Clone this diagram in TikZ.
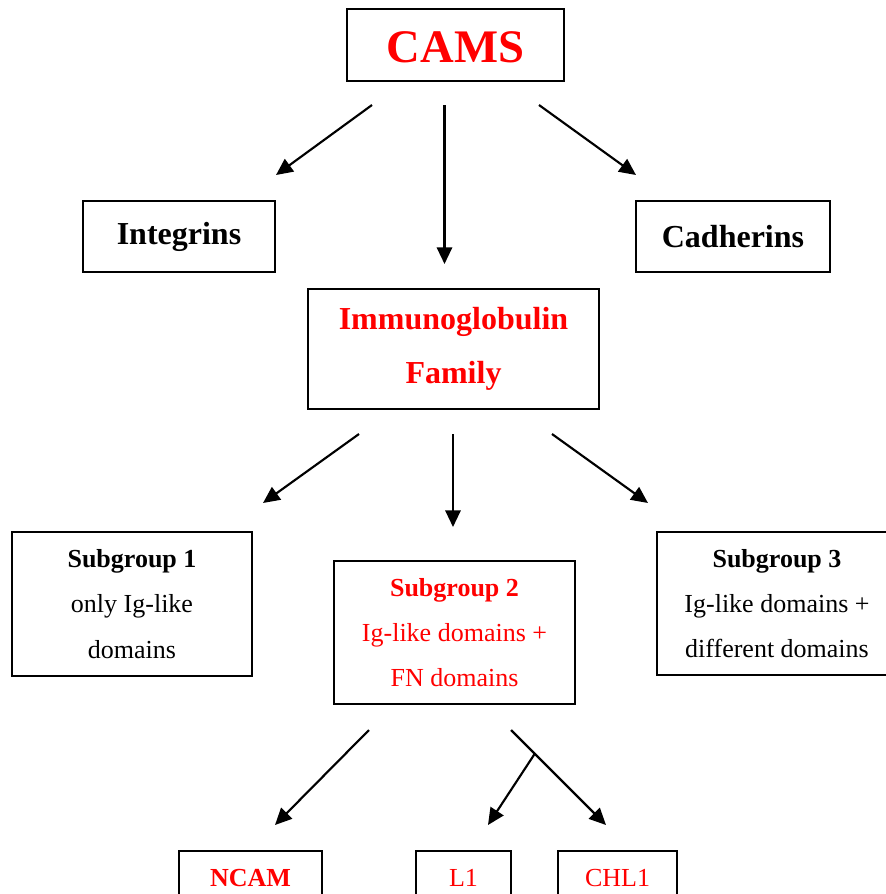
\documentclass[tikz,border=0pt]{standalone}
\usepackage{fontspec}
\setmainfont{Liberation Serif}
\usepackage{tikz}
\usetikzlibrary{arrows.meta,calc}
\tikzstyle{boxed}=[draw, line width=1.5pt, inner sep=0pt, align=center]
\tikzstyle{bigtext}=[font=\fontsize{24}{40}\selectfont\bfseries]
\tikzstyle{subtext}=[font=\fontsize{19.5}{34}\selectfont]
\tikzstyle{lowbox}=[draw, line width=1.5pt, anchor=north, inner xsep=0pt, inner ysep=13.4pt, text height=13pt, text depth=0pt, text=red, font=\fontsize{19.5}{23}\selectfont]
\tikzstyle{arrowed}=[line width=1.6pt, -{Triangle[length=12.5pt,width=11.5pt]}]
\newcommand{\linkArrow}[4]{
	\draw[arrowed] ($#1+#2$) -- ($#3+#4$);
}

\begin{document}
\begin{tikzpicture}[x=0.75pt, y=-0.75pt]
	\clip (0,0) rectangle (886,894);
	\node[boxed, minimum width=162.75pt, minimum height=54pt, text height=27pt, text=red, font=\fontsize{35}{40}\selectfont\bfseries] (cams) at (455.5,45) {CAMS};
	\node[boxed, bigtext, minimum width=144pt, minimum height=53.25pt] (integ) at (179,236.5) {Integrins};
	\node[boxed, bigtext, minimum width=145.5pt, minimum height=53.25pt] (cadh) at (733,236.5) {Cadherins};
	\node[boxed, bigtext, text=red, minimum width=218.25pt, minimum height=90pt] (immuno) at (453.5,349) {Immunoglobulin\\Family};
	\node[boxed, subtext, minimum width=180pt, minimum height=108pt] (sub1) at (132,604) {{\bfseries Subgroup 1}\\only Ig-like\\domains};
	\node[boxed, subtext, text=red, minimum width=180.75pt, minimum height=107.25pt] (sub2) at (454.5,632.5) {{\bfseries Subgroup 2}\\Ig-like domains +\\FN domains};
	\node[boxed, subtext, minimum width=180pt, minimum height=107.25pt] (sub3) at (777,603.5) {{\bfseries Subgroup 3}\\Ig-like domains +\\different domains};
	\node[lowbox, minimum width=107.25pt] (ncam) at (250.5,850) {\bfseries NCAM};
	\node[lowbox, minimum width=71.25pt] (l1) at (463.5,850) {L1};
	\node[lowbox, minimum width=89.25pt] (chl1) at (617.5,850) {CHL1};
	% first level
	\linkArrow{(cams.south)}{(-83.5,23)}{(integ.north)}{(97,-25)}
	\linkArrow{(cams.south)}{(-11,23)}{(immuno.north)}{(-9,-24)}
	\linkArrow{(cams.south)}{(83.5,23)}{(cadh.north)}{(-97,-25)}
	% second level
	\linkArrow{(immuno.south)}{(-94.5,24)}{(sub1.north)}{(131,-28)}
	\linkArrow{(immuno.south)}{(-0.5,24)}{(sub2.north)}{(-1.5,-33)}
	\linkArrow{(immuno.south)}{(98.5,24)}{(sub3.north)}{(-129,-28)}
	% third level
	\linkArrow{(sub2.south)}{(-85.5,25)}{(ncam.north)}{(24.5,-25)}
	\coordinate (splitTop) at ($(sub2.south)+(56.5,25)$);
	\coordinate (splitEnd) at ($(chl1.north)+(-11.5,-25)$);
	\coordinate (fork) at ($(splitTop)!0.25!(splitEnd)$);
	\draw[arrowed] (splitTop) -- (splitEnd);
	\linkArrow{(fork)}{(0,0)}{(l1.north)}{(24.5,-25)}
\end{tikzpicture}
\end{document}
